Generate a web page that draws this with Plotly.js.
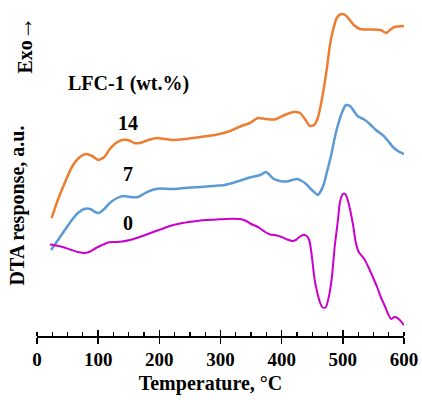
<!DOCTYPE html>
<html>
<head>
<meta charset="utf-8">
<script src="https://cdn.plot.ly/plotly-3.0.1.min.js"></script>
<style>html,body{margin:0;padding:0;background:#fff;}#chart{width:422px;height:400px;}</style>
</head>
<body>
<div id="chart"></div>
<script>
// Temperature (°C) and DTA response (a.u., arbitrary offsets) per LFC-1 content
const tempLFC14 = [24,34,46,57,70,80,90,100,110,119,129,139,149,159,168,182,196,209,222,242,267,291,316,334,348,361,373,389,405,420,430,438,446,453,459,464,469,474,479,484,490,497,504,510,518,528,544,562,571,577,584,600];
const dtaLFC14 = [182,200,218,233,243,246,244,240,243,251,257,260,260,257,257,260,262,261,260,261,263,265,269,274,277,282,281,280.5,285,288,287,281,274,275,282,295,312,332,355,370,382,386,385,381,375,371,370.5,370,367,370,373,374];

const tempLFC7 = [23,31,41,49,57,67,77,87,95,101,110,119,131,141,152,165,177,188,201,217,234,250,267,288,307,325,348,365,374,379,386,397,409,417,425,433,440,446,453,459,464,469,474,481,486,492,499,505,512,518,525,535,544,554,566,574,582,590,600];
const dtaLFC7 = [150,157,166,173,180,187,191,191,188,187,191,197,202,204,203,203,207,210,211.5,211,211.5,212.5,213,214,215,218,222.5,225,228,226,221.5,219,218.5,220,221,219,216,212,208,205,209,216,228,245,260,275,288,295,294,289,283.5,280.5,276,270,264.5,259,253,249,246];

const tempLFC0 = [21,31,42,54,67,78,87,95,105,116,127,139,152,163,177,190,204,217,234,255,275,299,320,332,342,350,358,366,373,381,392,400,409,418,423,430,435,440,445,448,451,454,458,463,467,472,477,482,487,492,495,499,502,505,508,512,517,521,526,535,541,549,556,562,569,574,579,584,588,593,600];
const dtaLFC0 = [155.5,154.5,153,150.5,148,147,148.5,151.5,154.5,157.5,158,158.5,160,162,165,168,171,174,176.5,178.5,180,180.7,181.3,181,179,176,174,171,168,165.5,164.5,163,160.5,159,160,163.5,165,164.5,160,150,135,120,108,97,92.5,92.5,103,122,155,180,197,205,206.5,205,200,190,174,158,148,141,134,123,113,103,93.5,86,81,83,82.5,80,75];

const seriesLabels = ["14", "7", "0"];
const xTickVals = [0,100,200,300,400,500,600];

const serif = "Liberation Serif, Times New Roman, serif";
const pad = "&nbsp;";

const traces = [
  {x: tempLFC14, y: dtaLFC14, name: seriesLabels[0], mode: "lines", line: {color: "#ED7D31", width: 2.5, shape: "spline", smoothing: 0.6}},
  {x: tempLFC7, y: dtaLFC7, name: seriesLabels[1], mode: "lines", line: {color: "#5B9BD5", width: 2.5, shape: "spline", smoothing: 0.6}},
  {x: tempLFC0, y: dtaLFC0, name: seriesLabels[2], mode: "lines", line: {color: "#CC00CC", width: 2, shape: "spline", smoothing: 0.6}},
  {x: [0, 600], y: [null, null], xaxis: "x2", mode: "lines", showlegend: false, hoverinfo: "skip"}
];

const layout = {
  width: 422, height: 400,
  margin: {l: 37, r: 18, t: 0, b: 64},
  paper_bgcolor: "#fff", plot_bgcolor: "#fff",
  showlegend: false,
  font: {family: serif, color: "#000", size: 19},
  xaxis: {
    range: [0, 600], tickvals: xTickVals, ticktext: xTickVals.map(String),
    showgrid: false, zeroline: false, showline: true, linecolor: "#000", linewidth: 1.5,
    ticks: "outside", ticklen: 6, tickwidth: 1.5, tickcolor: "#000",
    minor: {dtick: 25, tick0: 0, ticks: "inside", ticklen: 4, tickwidth: 1.2, tickcolor: "#000", showgrid: false},
    tickfont: {family: serif, size: 19, weight: "bold"},
    title: {text: "<b>Temperature, °C</b>" + pad.repeat(4), font: {family: serif, size: 20}, standoff: 6}
  },
  xaxis2: {
    range: [0, 600], overlaying: "x", anchor: "y", side: "bottom",
    tickvals: xTickVals, ticks: "inside", ticklen: 6, tickwidth: 1.5, tickcolor: "#000",
    showticklabels: false, showgrid: false, zeroline: false, showline: false
  },
  yaxis: {
    range: [64, 400], showgrid: false, zeroline: false, showline: false,
    showticklabels: false, ticks: "",
    title: {text: "<b>DTA response, a.u.</b>" + pad.repeat(15), font: {family: serif, size: 20}, standoff: 6}
  },
  annotations: [
    {xref: "paper", yref: "paper", x: -0.035, y: 0.865, text: "<b>Exo</b><span style='font-size:24px'>→</span>", textangle: -90, showarrow: false, font: {family: serif, size: 20}, xanchor: "center", yanchor: "middle"},
    {x: 149, y: 317, text: "<b>LFC-1 (wt.%)</b>", showarrow: false, font: {family: serif, size: 20}},
    {x: 148, y: 277, text: "<b>" + seriesLabels[0] + "</b>", showarrow: false, font: {family: serif, size: 20}},
    {x: 148, y: 226, text: "<b>" + seriesLabels[1] + "</b>", showarrow: false, font: {family: serif, size: 20}},
    {x: 148, y: 177, text: "<b>" + seriesLabels[2] + "</b>", showarrow: false, font: {family: serif, size: 20}}
  ]
};

Plotly.newPlot("chart", traces, layout, {staticPlot: true, displayModeBar: false});
</script>
</body>
</html>
